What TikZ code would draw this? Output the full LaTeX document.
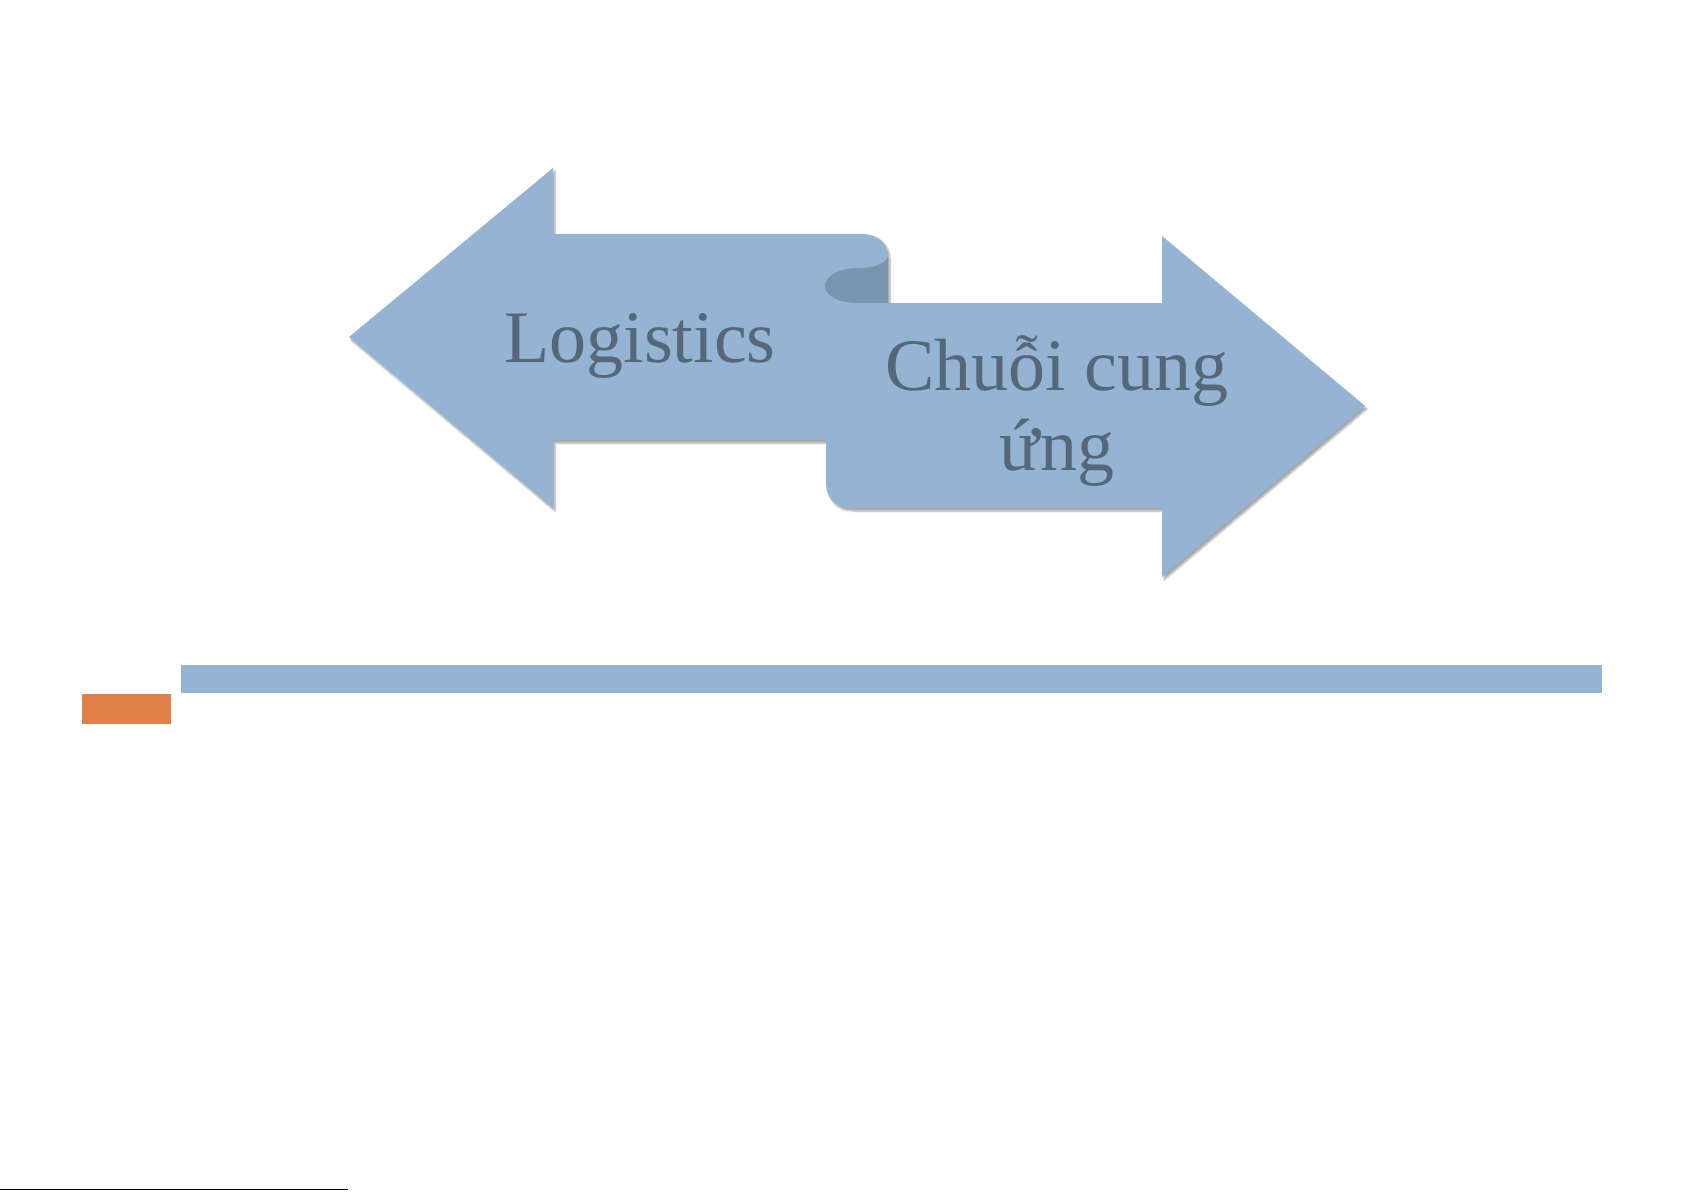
\documentclass[tikz,border=0pt]{standalone}
\usepackage{fontspec}
\setmainfont{Liberation Serif}
\usetikzlibrary{shadows.blur}
\definecolor{arrowblue}{HTML}{95B3D3}
\definecolor{curldark}{HTML}{7A96AE}
\definecolor{barorange}{HTML}{DF8049}
\definecolor{textgray}{HTML}{56677A}
\tikzset{
  arrowshape/.style={fill=arrowblue, draw=none,
    blur shadow={shadow xshift=2pt, shadow yshift=-3pt, shadow blur steps=6, shadow opacity=35}},
  curlshape/.style={fill=curldark, draw=none},
  bigtext/.style={text=textgray, font=\fontsize{74}{80}\selectfont, inner sep=0pt, align=center},
  bar/.style={draw=none}
}
\begin{document}
\begin{tikzpicture}[x=1pt,y=-1pt]
\useasboundingbox (0,0) rectangle (1685,1191);
% double arrow
\path[arrowshape] (349,337) -- (553,168) -- (553,234) -- (862,234)
  .. controls (878,234) and (888,243) .. (888,256) -- (888,303) -- (1162,303)
  -- (1162,236) -- (1365,406) -- (1162,577) -- (1162,508) -- (851,508)
  .. controls (836,508) and (826,498) .. (826,483) -- (826,440) -- (553,440)
  -- (553,508) -- cycle;
% curl
\path[curlshape] (888,256) .. controls (886,264) and (874,268) .. (858,268)
  .. controls (839,268) and (825,276) .. (825,286)
  .. controls (825,296) and (839,303) .. (858,303) -- (888,303) -- cycle;
% texts
\node[bigtext, anchor=base] (logi) at (640,362) {Logistics};
\node[bigtext, anchor=base] (chuoi) at (1057,390) {Chuỗi cung};
\node[bigtext, anchor=base] (ung) at (1057,470) {ứng};
% bars
\fill[arrowblue] (181,665) rectangle (1602,693);
\fill[barorange] (82,694) rectangle (171,724);
% footnote rule
\draw[line width=1.2pt] (0,1189.5) -- (348,1189.5);
\end{tikzpicture}
\end{document}
